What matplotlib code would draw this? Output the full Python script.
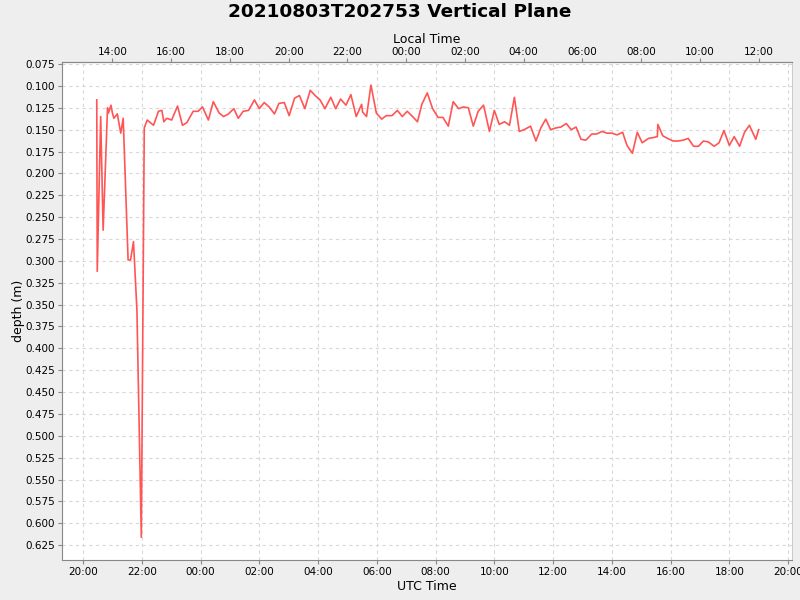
import pandas as pd
import numpy as np
import matplotlib
matplotlib.use('Agg')
import matplotlib.pyplot as plt
import matplotlib.dates as mdates

title = '20210803T202753 Vertical Plane'

# UTC times of each sample (start 2021-08-03, past midnight rolls to 08-04)
utc_times = [
    '20:28', '20:29', '20:36', '20:41', '20:50', '20:52', '20:57', '21:00', '21:03', '21:10',
    '21:17', '21:22', '21:32', '21:37', '21:43', '21:50', '21:59', '22:05', '22:11', '22:24',
    '22:34', '22:41', '22:45', '22:51', '23:01', '23:13', '23:23', '23:32', '23:45', '23:55',
    '00:04', '00:16', '00:26', '00:38', '00:47', '00:57', '01:08', '01:17', '01:27', '01:38',
    '01:50', '02:00', '02:10', '02:20', '02:31', '02:40', '02:51', '03:01', '03:12', '03:22',
    '03:33', '03:44', '03:54', '04:04', '04:14', '04:26', '04:36', '04:46', '04:57', '05:07',
    '05:18', '05:29', '05:31', '05:39', '05:48', '05:59', '06:10', '06:19', '06:31', '06:42',
    '06:52', '07:02', '07:13', '07:23', '07:32', '07:43', '07:54', '08:05', '08:15', '08:26',
    '08:36', '08:47', '08:57', '09:07', '09:17', '09:27', '09:38', '09:50', '10:00', '10:10',
    '10:21', '10:31', '10:41', '10:51', '11:01', '11:14', '11:25', '11:35', '11:45', '11:55',
    '12:06', '12:16', '12:27', '12:37', '12:47', '12:57', '13:07', '13:19', '13:29', '13:40',
    '13:50', '14:00', '14:11', '14:22', '14:31', '14:42', '14:52', '15:02', '15:15', '15:25',
    '15:33', '15:34', '15:44', '15:54', '16:05', '16:15', '16:26', '16:36', '16:47', '16:57',
    '17:07', '17:17', '17:29', '17:39', '17:49', '18:00', '18:10', '18:21', '18:31', '18:41',
    '18:54', '19:00',
]

depth = [
    0.116, 0.312, 0.135, 0.265, 0.125, 0.131, 0.122, 0.131, 0.137, 0.132,
    0.154, 0.137, 0.299, 0.299, 0.278, 0.356, 0.616, 0.148, 0.139, 0.145,
    0.129, 0.128, 0.141, 0.137, 0.139, 0.123, 0.145, 0.142, 0.129, 0.129,
    0.124, 0.139, 0.118, 0.131, 0.135, 0.132, 0.126, 0.137, 0.129, 0.128,
    0.116, 0.126, 0.119, 0.124, 0.132, 0.120, 0.119, 0.134, 0.114, 0.111,
    0.126, 0.105, 0.111, 0.116, 0.126, 0.113, 0.126, 0.115, 0.122, 0.110,
    0.135, 0.121, 0.130, 0.135, 0.099, 0.131, 0.138, 0.134, 0.134, 0.128,
    0.135, 0.129, 0.135, 0.141, 0.121, 0.108, 0.126, 0.136, 0.136, 0.146,
    0.118, 0.126, 0.124, 0.125, 0.146, 0.129, 0.122, 0.152, 0.128, 0.144,
    0.141, 0.145, 0.113, 0.152, 0.150, 0.146, 0.163, 0.148, 0.138, 0.150,
    0.148, 0.147, 0.143, 0.150, 0.147, 0.161, 0.162, 0.155, 0.155, 0.152,
    0.154, 0.154, 0.156, 0.153, 0.168, 0.177, 0.153, 0.165, 0.160, 0.159,
    0.158, 0.144, 0.157, 0.160, 0.163, 0.163, 0.162, 0.160, 0.169, 0.169,
    0.163, 0.164, 0.169, 0.165, 0.151, 0.168, 0.158, 0.169, 0.153, 0.145,
    0.161, 0.150,
]

# build datetimes, rolling over to next day
t = pd.to_datetime(['2021-08-03 ' + s for s in utc_times])
day = np.cumsum(np.r_[0, np.diff(t.values).astype('int64') < 0])
t = t + pd.to_timedelta(day, unit='D')

plt.rcParams['font.family'] = 'DejaVu Sans'
fig = plt.figure(figsize=(8, 6), dpi=100, facecolor='#eeeeee')
ax = fig.add_axes([62 / 800, 1 - 560 / 600, 730 / 800, (560 - 62.3) / 600])
ax.set_facecolor('white')

ax.plot(t, depth, color='#ff5555', lw=1.2)

ax.set_xlim(pd.Timestamp('2021-08-03 19:17'), pd.Timestamp('2021-08-04 20:08'))
ax.set_ylim(0.642, 0.073)
ax.set_yticks(np.arange(0.075, 0.626, 0.025))
ax.yaxis.set_major_formatter(matplotlib.ticker.FormatStrFormatter('%.3f'))
ax.xaxis.set_major_locator(mdates.HourLocator(byhour=range(0, 24, 2)))
ax.xaxis.set_major_formatter(mdates.DateFormatter('%H:%M'))

ax.grid(True, color='#d8d8d8', linestyle=(0, (3, 3)), lw=0.8)
for s in ['left', 'bottom', 'top']:
    ax.spines[s].set_color('#888888')
ax.spines['right'].set_color('#cccccc')
ax.tick_params(colors='#888888', labelcolor='black', labelsize=7.5, length=3, pad=2)

ax.set_xlabel('UTC Time', fontsize=9, labelpad=2)
ax.set_ylabel('depth (m)', fontsize=9, labelpad=0)

# local time axis on top (UTC-7)
off = 7 / 24
sec = ax.secondary_xaxis('top', functions=(lambda x: x - off, lambda x: x + off))
sec.xaxis.set_major_locator(mdates.HourLocator(byhour=range(0, 24, 2)))
sec.xaxis.set_major_formatter(mdates.DateFormatter('%H:%M'))
sec.tick_params(colors='#888888', labelcolor='black', labelsize=7.5, length=3, pad=1)
sec.spines['top'].set_color('#888888')
sec.set_xlabel('Local Time', fontsize=9, labelpad=3)

fig.text(0.5, 1 - 12 / 600, title, ha='center', va='center', fontsize=13.3, fontweight='bold')

fig.savefig('out.png', dpi=100, facecolor=fig.get_facecolor())
